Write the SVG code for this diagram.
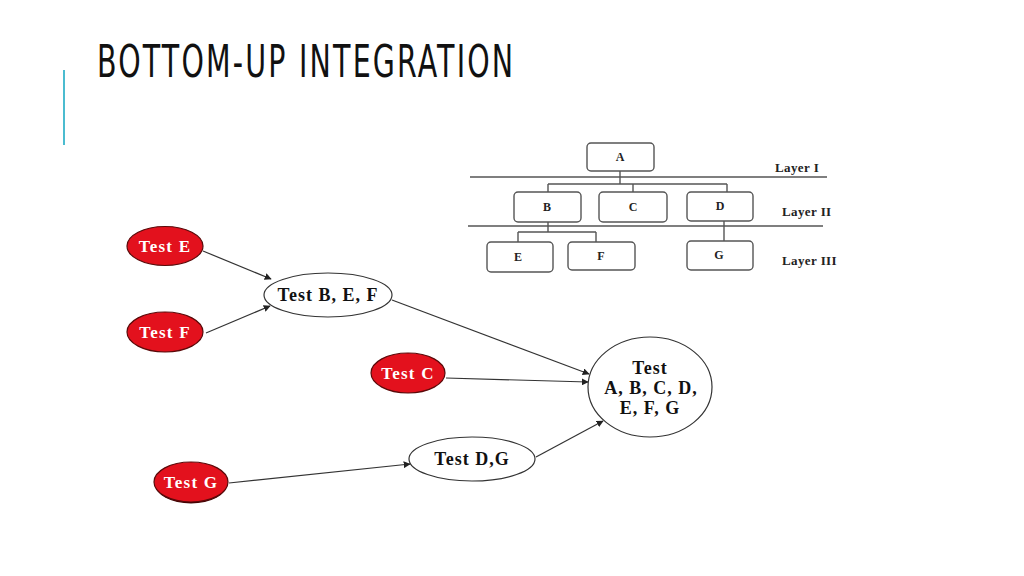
<svg xmlns="http://www.w3.org/2000/svg" width="1024" height="576" viewBox="0 0 1024 576">
<defs>
<style>
.title{font-family:"DejaVu Sans Condensed","Liberation Sans Narrow","Liberation Sans",sans-serif;font-size:44px;fill:#111;}
.box{fill:#fff;stroke:#555;stroke-width:1.4;}
.tl{fill:none;stroke:#555;stroke-width:1.4;}
.bt{font-family:"Liberation Serif",serif;font-weight:bold;font-size:12px;fill:#222;text-anchor:middle;}
.lay{font-family:"Liberation Serif",serif;font-weight:bold;font-size:13px;fill:#222;letter-spacing:0.4px;}
.red{fill:#e3111d;stroke:#5a0a0a;stroke-width:1.2;}
.wht{fill:#fff;stroke:#333;stroke-width:1.2;}
.rt{font-family:"Liberation Serif",serif;font-weight:bold;font-size:17px;fill:#fff;text-anchor:middle;letter-spacing:1.2px;}
.bk{font-family:"Liberation Serif",serif;font-weight:bold;font-size:18px;fill:#111;text-anchor:middle;letter-spacing:1px;}
.ck{font-family:"Liberation Serif",serif;font-weight:bold;font-size:18px;fill:#111;text-anchor:middle;letter-spacing:1px;}
.arr{stroke:#333;stroke-width:1.2;fill:none;marker-end:url(#ah);}
</style>
<marker id="ah" viewBox="0 0 10 10" refX="9" refY="5" markerWidth="7" markerHeight="7" markerUnits="userSpaceOnUse" orient="auto">
<path d="M0,0 L10,5 L0,10 z" fill="#222"/>
</marker>
</defs>
<rect width="1024" height="576" fill="#fff"/>
<line x1="64" y1="70" x2="64" y2="145" stroke="#4bbcd0" stroke-width="2"/>
<text class="title" transform="translate(97,77) scale(0.72,1)" x="0" y="0" textLength="578" lengthAdjust="spacing">BOTTOM-UP INTEGRATION</text>

<g id="tree">
<line class="tl" x1="470" y1="177" x2="827" y2="177"/>
<line class="tl" x1="468" y1="226" x2="823" y2="226"/>
<path class="tl" d="M620,171 V184 M548,184 H727 M548,184 V192 M633,184 V192 M727,184 V192"/>
<path class="tl" d="M548,222 V232 M518,232 H596 M518,232 V242 M596,232 V242"/>
<path class="tl" d="M724,221 V241"/>
<g id="tA"><rect class="box" x="587" y="143" width="67" height="28" rx="4"/><text class="bt" x="620" y="161">A</text></g>
<g id="tB"><rect class="box" x="514" y="192" width="67" height="30" rx="4"/><text class="bt" x="547" y="211">B</text></g>
<g id="tC"><rect class="box" x="599" y="192" width="68" height="30" rx="4"/><text class="bt" x="633" y="211">C</text></g>
<g id="tD"><rect class="box" x="687" y="192" width="66" height="29" rx="4"/><text class="bt" x="720" y="210">D</text></g>
<g id="tE"><rect class="box" x="487" y="242" width="66" height="30" rx="4"/><text class="bt" x="518" y="261">E</text></g>
<g id="tF"><rect class="box" x="568" y="242" width="67" height="28" rx="4"/><text class="bt" x="601" y="260">F</text></g>
<g id="tG"><rect class="box" x="687" y="241" width="66" height="29" rx="4"/><text class="bt" x="719" y="259">G</text></g>
<text class="lay" x="775" y="172">Layer I</text>
<text class="lay" x="782" y="216">Layer II</text>
<text class="lay" x="782" y="265">Layer III</text>
</g>

<g id="connectors">
<line class="arr" x1="203" y1="251" x2="271" y2="279"/>
<line class="arr" x1="206" y1="333" x2="270" y2="306"/>
<line class="arr" x1="392" y1="300" x2="589" y2="374"/>
<line class="arr" x1="446" y1="378" x2="588" y2="382"/>
<line class="arr" x1="536" y1="457" x2="603" y2="421"/>
<line class="arr" x1="229" y1="483" x2="410" y2="464"/>
</g>

<g id="testE"><ellipse class="red" cx="165" cy="246" rx="38" ry="19.5"/><text class="rt" x="165" y="252">Test E</text></g>
<g id="testF"><ellipse class="red" cx="165" cy="332" rx="38" ry="20"/><text class="rt" x="165" y="338">Test F</text></g>
<g id="testC"><ellipse class="red" cx="408" cy="373" rx="37" ry="20"/><text class="rt" x="408" y="379">Test C</text></g>
<g id="testG"><ellipse cx="191" cy="484" rx="36" ry="19.5" fill="#3a0000"/><ellipse class="red" cx="191" cy="482" rx="37" ry="20"/><text class="rt" x="191" y="488">Test G</text></g>
<g id="testBEF"><ellipse class="wht" cx="328" cy="295" rx="64" ry="22"/><text class="bk" x="328" y="301">Test B, E, F</text></g>
<g id="testDG"><ellipse class="wht" cx="472" cy="459" rx="63" ry="22"/><text class="bk" x="472" y="465">Test D,G</text></g>
<g id="testAll"><ellipse class="wht" cx="650" cy="387" rx="62" ry="50"/>
<text class="ck" x="650" y="374">Test</text>
<text class="ck" x="651" y="394">A, B, C, D,</text>
<text class="ck" x="650" y="414">E, F, G</text></g>
</svg>
